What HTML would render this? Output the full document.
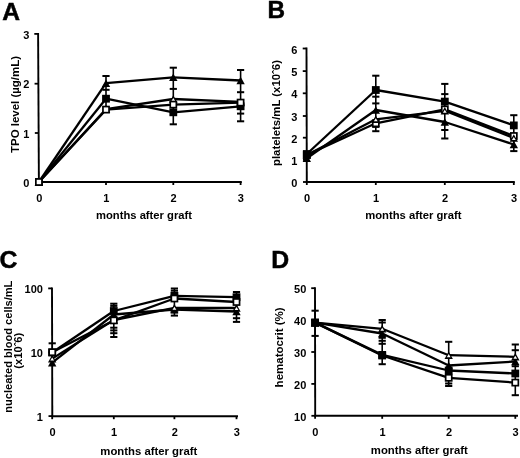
<!DOCTYPE html>
<html><head><meta charset="utf-8"><style>
html,body{margin:0;padding:0;background:#fff;width:520px;height:458px;overflow:hidden}
svg{display:block;will-change:transform;filter:blur(0.35px)}
text{font-family:"Liberation Sans",sans-serif;font-weight:bold;fill:#000}
.L{stroke:#000;stroke-width:0.5px}
</style></head><body>
<svg width="520" height="458" viewBox="0 0 520 458">
<rect width="520" height="458" fill="#fff"/>
<g stroke="#000" fill="none">
<line x1="38.10" y1="33.00" x2="38.90" y2="182.90" stroke-width="1.9"/>
<line x1="38.00" y1="182.00" x2="241.80" y2="182.00" stroke-width="1.9"/>
<line x1="35.10" y1="182.00" x2="38.90" y2="182.00" stroke-width="1.8"/>
<text stroke="none" fill="#000" x="29.40" y="186.60" font-size="11" text-anchor="end" >0</text>
<line x1="34.84" y1="133.00" x2="38.64" y2="133.00" stroke-width="1.8"/>
<text stroke="none" fill="#000" x="29.40" y="137.60" font-size="11" text-anchor="end" >1</text>
<line x1="34.57" y1="83.70" x2="38.37" y2="83.70" stroke-width="1.8"/>
<text stroke="none" fill="#000" x="29.40" y="88.30" font-size="11" text-anchor="end" >2</text>
<line x1="34.30" y1="33.90" x2="38.10" y2="33.90" stroke-width="1.8"/>
<text stroke="none" fill="#000" x="29.40" y="38.50" font-size="11" text-anchor="end" >3</text>
<line x1="38.90" y1="182.00" x2="38.90" y2="185.00" stroke-width="1.8"/>
<text stroke="none" fill="#000" x="39.20" y="201.70" font-size="11" text-anchor="middle" >0</text>
<line x1="106.00" y1="182.00" x2="106.00" y2="185.00" stroke-width="1.8"/>
<text stroke="none" fill="#000" x="106.30" y="201.70" font-size="11" text-anchor="middle" >1</text>
<line x1="173.30" y1="182.00" x2="173.30" y2="185.00" stroke-width="1.8"/>
<text stroke="none" fill="#000" x="173.60" y="201.70" font-size="11" text-anchor="middle" >2</text>
<line x1="240.60" y1="182.00" x2="240.60" y2="185.00" stroke-width="1.8"/>
<text stroke="none" fill="#000" x="240.90" y="201.70" font-size="11" text-anchor="middle" >3</text>
<text stroke="none" fill="#000" x="2.2" y="19.7" font-size="24.6" class="L">A</text>
<text stroke="none" fill="#000" x="96.00" y="219.40" font-size="11" text-anchor="start" textLength="96" lengthAdjust="spacingAndGlyphs">months after graft</text>
<text stroke="none" fill="#000" transform="translate(19.3,104.5) rotate(-90)" x="0" y="0" font-size="11.3" text-anchor="middle" textLength="97" lengthAdjust="spacingAndGlyphs">TPO level (µg/mL)</text>
<line x1="38.90" y1="182.00" x2="106.00" y2="98.70" stroke-width="2.3"/>
<line x1="106.00" y1="98.70" x2="173.30" y2="112.30" stroke-width="2.3"/>
<line x1="173.30" y1="112.30" x2="240.60" y2="106.30" stroke-width="2.3"/>
<line x1="38.90" y1="182.00" x2="106.00" y2="109.20" stroke-width="2.3"/>
<line x1="106.00" y1="109.20" x2="173.30" y2="99.00" stroke-width="2.3"/>
<line x1="173.30" y1="99.00" x2="240.60" y2="101.80" stroke-width="2.3"/>
<line x1="38.90" y1="182.00" x2="106.00" y2="83.20" stroke-width="2.3"/>
<line x1="106.00" y1="83.20" x2="173.30" y2="77.30" stroke-width="2.3"/>
<line x1="173.30" y1="77.30" x2="240.60" y2="80.50" stroke-width="2.3"/>
<line x1="38.90" y1="182.00" x2="106.00" y2="109.60" stroke-width="2.3"/>
<line x1="106.00" y1="109.60" x2="173.30" y2="104.60" stroke-width="2.3"/>
<line x1="173.30" y1="104.60" x2="240.60" y2="102.60" stroke-width="2.3"/>
<line x1="106.00" y1="76.00" x2="106.00" y2="106.00" stroke-width="1.6"/>
<line x1="102.40" y1="76.00" x2="109.60" y2="76.00" stroke-width="2.0"/>
<line x1="102.40" y1="89.80" x2="109.60" y2="89.80" stroke-width="2.0"/>
<line x1="173.30" y1="67.70" x2="173.30" y2="124.30" stroke-width="1.6"/>
<line x1="169.70" y1="67.70" x2="176.90" y2="67.70" stroke-width="2.0"/>
<line x1="169.70" y1="88.90" x2="176.90" y2="88.90" stroke-width="2.0"/>
<line x1="169.70" y1="124.30" x2="176.90" y2="124.30" stroke-width="2.0"/>
<line x1="240.60" y1="70.00" x2="240.60" y2="121.30" stroke-width="1.6"/>
<line x1="237.00" y1="70.00" x2="244.20" y2="70.00" stroke-width="2.0"/>
<line x1="237.00" y1="92.20" x2="244.20" y2="92.20" stroke-width="2.0"/>
<line x1="237.00" y1="113.60" x2="244.20" y2="113.60" stroke-width="2.0"/>
<line x1="237.00" y1="121.30" x2="244.20" y2="121.30" stroke-width="2.0"/>
<rect x="35.00" y="178.10" width="7.8" height="7.8" fill="#000" stroke="none"/>
<rect x="102.10" y="94.80" width="7.8" height="7.8" fill="#000" stroke="none"/>
<rect x="169.40" y="108.40" width="7.8" height="7.8" fill="#000" stroke="none"/>
<rect x="236.70" y="102.40" width="7.8" height="7.8" fill="#000" stroke="none"/>
<path d="M38.90,178.20 L43.10,185.80 L34.70,185.80Z" fill="#000" stroke="none"/>
<path d="M38.90,180.89 L40.79,184.01 L37.01,184.01Z" fill="#fff" stroke="none"/>
<path d="M106.00,105.40 L110.20,113.00 L101.80,113.00Z" fill="#000" stroke="none"/>
<path d="M106.00,108.09 L107.89,111.21 L104.11,111.21Z" fill="#fff" stroke="none"/>
<path d="M173.30,95.20 L177.50,102.80 L169.10,102.80Z" fill="#000" stroke="none"/>
<path d="M173.30,97.89 L175.19,101.01 L171.41,101.01Z" fill="#fff" stroke="none"/>
<path d="M240.60,98.00 L244.80,105.60 L236.40,105.60Z" fill="#000" stroke="none"/>
<path d="M240.60,100.69 L242.49,103.81 L238.71,103.81Z" fill="#fff" stroke="none"/>
<path d="M38.90,178.20 L43.10,185.80 L34.70,185.80Z" fill="#000" stroke="none"/>
<path d="M106.00,79.40 L110.20,87.00 L101.80,87.00Z" fill="#000" stroke="none"/>
<path d="M173.30,73.50 L177.50,81.10 L169.10,81.10Z" fill="#000" stroke="none"/>
<path d="M240.60,76.70 L244.80,84.30 L236.40,84.30Z" fill="#000" stroke="none"/>
<rect x="35.85" y="178.95" width="6.10" height="6.10" fill="#fff" stroke-width="1.7"/>
<rect x="102.95" y="106.55" width="6.10" height="6.10" fill="#fff" stroke-width="1.7"/>
<rect x="170.25" y="101.55" width="6.10" height="6.10" fill="#fff" stroke-width="1.7"/>
<rect x="237.55" y="99.55" width="6.10" height="6.10" fill="#fff" stroke-width="1.7"/>
<line x1="306.50" y1="47.60" x2="306.80" y2="182.90" stroke-width="1.9"/>
<line x1="305.90" y1="182.00" x2="514.80" y2="182.00" stroke-width="1.9"/>
<line x1="303.00" y1="182.00" x2="306.80" y2="182.00" stroke-width="1.8"/>
<text stroke="none" fill="#000" x="297.30" y="187.00" font-size="11" text-anchor="end" >0</text>
<line x1="302.95" y1="159.90" x2="306.75" y2="159.90" stroke-width="1.8"/>
<text stroke="none" fill="#000" x="297.30" y="164.90" font-size="11" text-anchor="end" >1</text>
<line x1="302.90" y1="137.70" x2="306.70" y2="137.70" stroke-width="1.8"/>
<text stroke="none" fill="#000" x="297.30" y="142.70" font-size="11" text-anchor="end" >2</text>
<line x1="302.85" y1="116.00" x2="306.65" y2="116.00" stroke-width="1.8"/>
<text stroke="none" fill="#000" x="297.30" y="121.00" font-size="11" text-anchor="end" >3</text>
<line x1="302.80" y1="93.30" x2="306.60" y2="93.30" stroke-width="1.8"/>
<text stroke="none" fill="#000" x="297.30" y="98.30" font-size="11" text-anchor="end" >4</text>
<line x1="302.75" y1="71.10" x2="306.55" y2="71.10" stroke-width="1.8"/>
<text stroke="none" fill="#000" x="297.30" y="76.10" font-size="11" text-anchor="end" >5</text>
<line x1="302.70" y1="48.50" x2="306.50" y2="48.50" stroke-width="1.8"/>
<text stroke="none" fill="#000" x="297.30" y="53.50" font-size="11" text-anchor="end" >6</text>
<line x1="306.80" y1="182.00" x2="306.80" y2="185.00" stroke-width="1.8"/>
<text stroke="none" fill="#000" x="307.10" y="201.90" font-size="11" text-anchor="middle" >0</text>
<line x1="375.80" y1="182.00" x2="375.80" y2="185.00" stroke-width="1.8"/>
<text stroke="none" fill="#000" x="376.10" y="201.90" font-size="11" text-anchor="middle" >1</text>
<line x1="444.80" y1="182.00" x2="444.80" y2="185.00" stroke-width="1.8"/>
<text stroke="none" fill="#000" x="445.10" y="201.90" font-size="11" text-anchor="middle" >2</text>
<line x1="513.80" y1="182.00" x2="513.80" y2="185.00" stroke-width="1.8"/>
<text stroke="none" fill="#000" x="514.10" y="201.90" font-size="11" text-anchor="middle" >3</text>
<text stroke="none" fill="#000" x="267.4" y="18.3" font-size="24.3" class="L">B</text>
<text stroke="none" fill="#000" x="365.20" y="219.30" font-size="11" text-anchor="start" textLength="96.3" lengthAdjust="spacingAndGlyphs">months after graft</text>
<text stroke="none" fill="#000" transform="translate(280.1,113) rotate(-90)" x="0" y="0" font-size="11" text-anchor="middle" textLength="106" lengthAdjust="spacingAndGlyphs">platelets/mL (x10ˆ6)</text>
<line x1="306.80" y1="158.20" x2="375.80" y2="110.00" stroke-width="2.3"/>
<line x1="375.80" y1="110.00" x2="444.80" y2="122.00" stroke-width="2.3"/>
<line x1="444.80" y1="122.00" x2="513.80" y2="144.50" stroke-width="2.3"/>
<line x1="306.80" y1="155.00" x2="375.80" y2="123.30" stroke-width="2.3"/>
<line x1="375.80" y1="123.30" x2="444.80" y2="109.40" stroke-width="2.3"/>
<line x1="444.80" y1="109.40" x2="513.80" y2="136.00" stroke-width="2.3"/>
<line x1="306.80" y1="155.00" x2="375.80" y2="119.30" stroke-width="2.3"/>
<line x1="375.80" y1="119.30" x2="444.80" y2="110.80" stroke-width="2.3"/>
<line x1="444.80" y1="110.80" x2="513.80" y2="138.00" stroke-width="2.3"/>
<line x1="306.80" y1="154.00" x2="375.80" y2="90.00" stroke-width="2.3"/>
<line x1="375.80" y1="90.00" x2="444.80" y2="101.60" stroke-width="2.3"/>
<line x1="444.80" y1="101.60" x2="513.80" y2="125.40" stroke-width="2.3"/>
<line x1="375.80" y1="75.70" x2="375.80" y2="131.20" stroke-width="1.6"/>
<line x1="372.20" y1="75.70" x2="379.40" y2="75.70" stroke-width="2.0"/>
<line x1="372.20" y1="96.70" x2="379.40" y2="96.70" stroke-width="2.0"/>
<line x1="372.20" y1="103.40" x2="379.40" y2="103.40" stroke-width="2.0"/>
<line x1="372.20" y1="126.90" x2="379.40" y2="126.90" stroke-width="2.0"/>
<line x1="372.20" y1="131.20" x2="379.40" y2="131.20" stroke-width="2.0"/>
<line x1="444.80" y1="83.90" x2="444.80" y2="138.50" stroke-width="1.6"/>
<line x1="441.20" y1="83.90" x2="448.40" y2="83.90" stroke-width="2.0"/>
<line x1="441.20" y1="94.10" x2="448.40" y2="94.10" stroke-width="2.0"/>
<line x1="441.20" y1="130.00" x2="448.40" y2="130.00" stroke-width="2.0"/>
<line x1="441.20" y1="138.50" x2="448.40" y2="138.50" stroke-width="2.0"/>
<line x1="513.80" y1="115.20" x2="513.80" y2="151.10" stroke-width="1.6"/>
<line x1="510.20" y1="115.20" x2="517.40" y2="115.20" stroke-width="2.0"/>
<line x1="510.20" y1="151.10" x2="517.40" y2="151.10" stroke-width="2.0"/>
<path d="M306.80,154.40 L311.00,162.00 L302.60,162.00Z" fill="#000" stroke="none"/>
<path d="M375.80,106.20 L380.00,113.80 L371.60,113.80Z" fill="#000" stroke="none"/>
<path d="M444.80,118.20 L449.00,125.80 L440.60,125.80Z" fill="#000" stroke="none"/>
<path d="M513.80,140.70 L518.00,148.30 L509.60,148.30Z" fill="#000" stroke="none"/>
<rect x="303.75" y="151.95" width="6.10" height="6.10" fill="#fff" stroke-width="1.7"/>
<rect x="372.75" y="120.25" width="6.10" height="6.10" fill="#fff" stroke-width="1.7"/>
<rect x="441.75" y="106.35" width="6.10" height="6.10" fill="#fff" stroke-width="1.7"/>
<rect x="510.75" y="132.95" width="6.10" height="6.10" fill="#fff" stroke-width="1.7"/>
<path d="M306.80,151.20 L311.00,158.80 L302.60,158.80Z" fill="#000" stroke="none"/>
<path d="M306.80,153.89 L308.69,157.01 L304.91,157.01Z" fill="#fff" stroke="none"/>
<path d="M375.80,115.50 L380.00,123.10 L371.60,123.10Z" fill="#000" stroke="none"/>
<path d="M375.80,118.19 L377.69,121.31 L373.91,121.31Z" fill="#fff" stroke="none"/>
<path d="M444.80,107.00 L449.00,114.60 L440.60,114.60Z" fill="#000" stroke="none"/>
<path d="M444.80,109.69 L446.69,112.81 L442.91,112.81Z" fill="#fff" stroke="none"/>
<path d="M513.80,134.20 L518.00,141.80 L509.60,141.80Z" fill="#000" stroke="none"/>
<path d="M513.80,136.89 L515.69,140.01 L511.91,140.01Z" fill="#fff" stroke="none"/>
<rect x="302.90" y="150.10" width="7.8" height="7.8" fill="#000" stroke="none"/>
<rect x="371.90" y="86.10" width="7.8" height="7.8" fill="#000" stroke="none"/>
<rect x="440.90" y="97.70" width="7.8" height="7.8" fill="#000" stroke="none"/>
<rect x="509.90" y="121.50" width="7.8" height="7.8" fill="#000" stroke="none"/>
<line x1="52.00" y1="287.50" x2="52.30" y2="417.10" stroke-width="1.9"/>
<line x1="51.40" y1="416.20" x2="238.00" y2="416.20" stroke-width="1.9"/>
<line x1="48.50" y1="416.10" x2="52.30" y2="416.10" stroke-width="1.8"/>
<text stroke="none" fill="#000" x="42.90" y="421.10" font-size="11" text-anchor="end" >1</text>
<line x1="48.35" y1="352.30" x2="52.15" y2="352.30" stroke-width="1.8"/>
<text stroke="none" fill="#000" x="42.90" y="357.30" font-size="11" text-anchor="end" >10</text>
<line x1="48.20" y1="288.40" x2="52.00" y2="288.40" stroke-width="1.8"/>
<text stroke="none" fill="#000" x="42.90" y="293.40" font-size="11" text-anchor="end" >100</text>
<line x1="52.20" y1="416.20" x2="52.20" y2="419.20" stroke-width="1.8"/>
<text stroke="none" fill="#000" x="52.50" y="436.30" font-size="11" text-anchor="middle" >0</text>
<line x1="113.80" y1="416.20" x2="113.80" y2="419.20" stroke-width="1.8"/>
<text stroke="none" fill="#000" x="114.10" y="436.30" font-size="11" text-anchor="middle" >1</text>
<line x1="174.40" y1="416.20" x2="174.40" y2="419.20" stroke-width="1.8"/>
<text stroke="none" fill="#000" x="174.70" y="436.30" font-size="11" text-anchor="middle" >2</text>
<line x1="236.50" y1="416.20" x2="236.50" y2="419.20" stroke-width="1.8"/>
<text stroke="none" fill="#000" x="236.80" y="436.30" font-size="11" text-anchor="middle" >3</text>
<text stroke="none" fill="#000" x="-0.6" y="267.9" font-size="24.8" class="L">C</text>
<text stroke="none" fill="#000" x="100.30" y="454.50" font-size="11" text-anchor="start" textLength="97" lengthAdjust="spacingAndGlyphs">months after graft</text>
<text stroke="none" fill="#000" transform="translate(11.6,346.7) rotate(-90)" x="0" y="0" font-size="11" text-anchor="middle" textLength="132" lengthAdjust="spacingAndGlyphs">nucleated blood cells/mL</text>
<text stroke="none" fill="#000" transform="translate(22.1,350.7) rotate(-90)" x="0" y="0" font-size="11" text-anchor="middle" textLength="36" lengthAdjust="spacingAndGlyphs">(x10ˆ6)</text>
<line x1="52.20" y1="362.60" x2="113.80" y2="314.50" stroke-width="2.3"/>
<line x1="113.80" y1="314.50" x2="174.40" y2="309.50" stroke-width="2.3"/>
<line x1="174.40" y1="309.50" x2="236.50" y2="311.50" stroke-width="2.3"/>
<line x1="52.20" y1="358.60" x2="113.80" y2="320.00" stroke-width="2.3"/>
<line x1="113.80" y1="320.00" x2="174.40" y2="307.80" stroke-width="2.3"/>
<line x1="174.40" y1="307.80" x2="236.50" y2="308.00" stroke-width="2.3"/>
<line x1="52.20" y1="352.50" x2="113.80" y2="311.00" stroke-width="2.3"/>
<line x1="113.80" y1="311.00" x2="174.40" y2="295.80" stroke-width="2.3"/>
<line x1="174.40" y1="295.80" x2="236.50" y2="297.20" stroke-width="2.3"/>
<line x1="52.20" y1="352.20" x2="113.80" y2="320.40" stroke-width="2.3"/>
<line x1="113.80" y1="320.40" x2="174.40" y2="298.50" stroke-width="2.3"/>
<line x1="174.40" y1="298.50" x2="236.50" y2="302.00" stroke-width="2.3"/>
<line x1="52.20" y1="343.30" x2="52.20" y2="343.30" stroke-width="1.6"/>
<line x1="48.60" y1="343.30" x2="55.80" y2="343.30" stroke-width="2.0"/>
<line x1="113.80" y1="303.70" x2="113.80" y2="337.00" stroke-width="1.6"/>
<line x1="110.20" y1="303.70" x2="117.40" y2="303.70" stroke-width="2.0"/>
<line x1="110.20" y1="305.90" x2="117.40" y2="305.90" stroke-width="2.0"/>
<line x1="110.20" y1="327.70" x2="117.40" y2="327.70" stroke-width="2.0"/>
<line x1="110.20" y1="330.40" x2="117.40" y2="330.40" stroke-width="2.0"/>
<line x1="110.20" y1="333.20" x2="117.40" y2="333.20" stroke-width="2.0"/>
<line x1="110.20" y1="337.00" x2="117.40" y2="337.00" stroke-width="2.0"/>
<line x1="174.40" y1="288.50" x2="174.40" y2="315.60" stroke-width="1.6"/>
<line x1="170.80" y1="288.50" x2="178.00" y2="288.50" stroke-width="2.0"/>
<line x1="170.80" y1="290.70" x2="178.00" y2="290.70" stroke-width="2.0"/>
<line x1="170.80" y1="312.50" x2="178.00" y2="312.50" stroke-width="2.0"/>
<line x1="170.80" y1="315.60" x2="178.00" y2="315.60" stroke-width="2.0"/>
<line x1="236.50" y1="292.00" x2="236.50" y2="321.90" stroke-width="1.6"/>
<line x1="232.90" y1="292.00" x2="240.10" y2="292.00" stroke-width="2.0"/>
<line x1="232.90" y1="318.20" x2="240.10" y2="318.20" stroke-width="2.0"/>
<line x1="232.90" y1="321.90" x2="240.10" y2="321.90" stroke-width="2.0"/>
<path d="M52.20,358.80 L56.40,366.40 L48.00,366.40Z" fill="#000" stroke="none"/>
<path d="M113.80,310.70 L118.00,318.30 L109.60,318.30Z" fill="#000" stroke="none"/>
<path d="M174.40,305.70 L178.60,313.30 L170.20,313.30Z" fill="#000" stroke="none"/>
<path d="M236.50,307.70 L240.70,315.30 L232.30,315.30Z" fill="#000" stroke="none"/>
<path d="M52.20,354.80 L56.40,362.40 L48.00,362.40Z" fill="#000" stroke="none"/>
<path d="M52.20,357.49 L54.09,360.61 L50.31,360.61Z" fill="#fff" stroke="none"/>
<path d="M113.80,316.20 L118.00,323.80 L109.60,323.80Z" fill="#000" stroke="none"/>
<path d="M113.80,318.89 L115.69,322.01 L111.91,322.01Z" fill="#fff" stroke="none"/>
<path d="M174.40,304.00 L178.60,311.60 L170.20,311.60Z" fill="#000" stroke="none"/>
<path d="M174.40,306.69 L176.29,309.81 L172.51,309.81Z" fill="#fff" stroke="none"/>
<path d="M236.50,304.20 L240.70,311.80 L232.30,311.80Z" fill="#000" stroke="none"/>
<path d="M236.50,306.89 L238.39,310.01 L234.61,310.01Z" fill="#fff" stroke="none"/>
<rect x="48.30" y="348.60" width="7.8" height="7.8" fill="#000" stroke="none"/>
<rect x="109.90" y="307.10" width="7.8" height="7.8" fill="#000" stroke="none"/>
<rect x="170.50" y="291.90" width="7.8" height="7.8" fill="#000" stroke="none"/>
<rect x="232.60" y="293.30" width="7.8" height="7.8" fill="#000" stroke="none"/>
<rect x="49.15" y="349.15" width="6.10" height="6.10" fill="#fff" stroke-width="1.7"/>
<rect x="110.75" y="317.35" width="6.10" height="6.10" fill="#fff" stroke-width="1.7"/>
<rect x="171.35" y="295.45" width="6.10" height="6.10" fill="#fff" stroke-width="1.7"/>
<rect x="233.45" y="298.95" width="6.10" height="6.10" fill="#fff" stroke-width="1.7"/>
<line x1="315.00" y1="287.30" x2="315.20" y2="416.70" stroke-width="1.9"/>
<line x1="314.30" y1="415.80" x2="518.00" y2="415.80" stroke-width="1.9"/>
<line x1="311.40" y1="415.80" x2="315.20" y2="415.80" stroke-width="1.8"/>
<text stroke="none" fill="#000" x="306.30" y="420.60" font-size="11" text-anchor="end" >10</text>
<line x1="311.35" y1="383.90" x2="315.15" y2="383.90" stroke-width="1.8"/>
<text stroke="none" fill="#000" x="306.30" y="388.70" font-size="11" text-anchor="end" >20</text>
<line x1="311.30" y1="352.00" x2="315.10" y2="352.00" stroke-width="1.8"/>
<text stroke="none" fill="#000" x="306.30" y="356.80" font-size="11" text-anchor="end" >30</text>
<line x1="311.25" y1="320.10" x2="315.05" y2="320.10" stroke-width="1.8"/>
<text stroke="none" fill="#000" x="306.30" y="324.90" font-size="11" text-anchor="end" >40</text>
<line x1="311.20" y1="288.20" x2="315.00" y2="288.20" stroke-width="1.8"/>
<text stroke="none" fill="#000" x="306.30" y="293.00" font-size="11" text-anchor="end" >50</text>
<line x1="315.10" y1="415.80" x2="315.10" y2="418.80" stroke-width="1.8"/>
<text stroke="none" fill="#000" x="315.40" y="436.00" font-size="11" text-anchor="middle" >0</text>
<line x1="382.20" y1="415.80" x2="382.20" y2="418.80" stroke-width="1.8"/>
<text stroke="none" fill="#000" x="382.50" y="436.00" font-size="11" text-anchor="middle" >1</text>
<line x1="448.70" y1="415.80" x2="448.70" y2="418.80" stroke-width="1.8"/>
<text stroke="none" fill="#000" x="449.00" y="436.00" font-size="11" text-anchor="middle" >2</text>
<line x1="515.30" y1="415.80" x2="515.30" y2="418.80" stroke-width="1.8"/>
<text stroke="none" fill="#000" x="515.60" y="436.00" font-size="11" text-anchor="middle" >3</text>
<text stroke="none" fill="#000" x="271.3" y="267.7" font-size="24.8" class="L">D</text>
<text stroke="none" fill="#000" x="370.80" y="453.70" font-size="11" text-anchor="start" textLength="97" lengthAdjust="spacingAndGlyphs">months after graft</text>
<text stroke="none" fill="#000" transform="translate(282.8,347.4) rotate(-90)" x="0" y="0" font-size="11.3" text-anchor="middle" textLength="80" lengthAdjust="spacingAndGlyphs">hematocrit (%)</text>
<line x1="315.10" y1="322.60" x2="382.20" y2="355.50" stroke-width="2.3"/>
<line x1="382.20" y1="355.50" x2="448.70" y2="377.80" stroke-width="2.3"/>
<line x1="448.70" y1="377.80" x2="515.30" y2="382.60" stroke-width="2.3"/>
<line x1="315.10" y1="322.60" x2="382.20" y2="333.50" stroke-width="2.3"/>
<line x1="382.20" y1="333.50" x2="448.70" y2="365.50" stroke-width="2.3"/>
<line x1="448.70" y1="365.50" x2="515.30" y2="361.50" stroke-width="2.3"/>
<line x1="315.10" y1="322.60" x2="382.20" y2="328.80" stroke-width="2.3"/>
<line x1="382.20" y1="328.80" x2="448.70" y2="355.20" stroke-width="2.3"/>
<line x1="448.70" y1="355.20" x2="515.30" y2="356.80" stroke-width="2.3"/>
<line x1="315.10" y1="322.60" x2="382.20" y2="354.90" stroke-width="2.3"/>
<line x1="382.20" y1="354.90" x2="448.70" y2="370.50" stroke-width="2.3"/>
<line x1="448.70" y1="370.50" x2="515.30" y2="373.50" stroke-width="2.3"/>
<line x1="315.10" y1="310.70" x2="315.10" y2="335.90" stroke-width="1.6"/>
<line x1="311.50" y1="310.70" x2="318.70" y2="310.70" stroke-width="2.0"/>
<line x1="311.50" y1="335.90" x2="318.70" y2="335.90" stroke-width="2.0"/>
<line x1="382.20" y1="320.00" x2="382.20" y2="364.20" stroke-width="1.6"/>
<line x1="378.60" y1="320.00" x2="385.80" y2="320.00" stroke-width="2.0"/>
<line x1="378.60" y1="322.50" x2="385.80" y2="322.50" stroke-width="2.0"/>
<line x1="378.60" y1="337.80" x2="385.80" y2="337.80" stroke-width="2.0"/>
<line x1="378.60" y1="340.80" x2="385.80" y2="340.80" stroke-width="2.0"/>
<line x1="378.60" y1="343.80" x2="385.80" y2="343.80" stroke-width="2.0"/>
<line x1="378.60" y1="364.20" x2="385.80" y2="364.20" stroke-width="2.0"/>
<line x1="448.70" y1="341.80" x2="448.70" y2="386.00" stroke-width="1.6"/>
<line x1="445.10" y1="341.80" x2="452.30" y2="341.80" stroke-width="2.0"/>
<line x1="445.10" y1="383.50" x2="452.30" y2="383.50" stroke-width="2.0"/>
<line x1="445.10" y1="386.00" x2="452.30" y2="386.00" stroke-width="2.0"/>
<line x1="515.30" y1="344.50" x2="515.30" y2="395.20" stroke-width="1.6"/>
<line x1="511.70" y1="344.50" x2="518.90" y2="344.50" stroke-width="2.0"/>
<line x1="511.70" y1="350.20" x2="518.90" y2="350.20" stroke-width="2.0"/>
<line x1="511.70" y1="366.20" x2="518.90" y2="366.20" stroke-width="2.0"/>
<line x1="511.70" y1="395.20" x2="518.90" y2="395.20" stroke-width="2.0"/>
<rect x="312.05" y="319.55" width="6.10" height="6.10" fill="#fff" stroke-width="1.7"/>
<rect x="379.15" y="352.45" width="6.10" height="6.10" fill="#fff" stroke-width="1.7"/>
<rect x="445.65" y="374.75" width="6.10" height="6.10" fill="#fff" stroke-width="1.7"/>
<rect x="512.25" y="379.55" width="6.10" height="6.10" fill="#fff" stroke-width="1.7"/>
<path d="M315.10,318.80 L319.30,326.40 L310.90,326.40Z" fill="#000" stroke="none"/>
<path d="M382.20,329.70 L386.40,337.30 L378.00,337.30Z" fill="#000" stroke="none"/>
<path d="M448.70,361.70 L452.90,369.30 L444.50,369.30Z" fill="#000" stroke="none"/>
<path d="M515.30,357.70 L519.50,365.30 L511.10,365.30Z" fill="#000" stroke="none"/>
<path d="M315.10,318.80 L319.30,326.40 L310.90,326.40Z" fill="#000" stroke="none"/>
<path d="M315.10,321.49 L316.99,324.61 L313.21,324.61Z" fill="#fff" stroke="none"/>
<path d="M382.20,325.00 L386.40,332.60 L378.00,332.60Z" fill="#000" stroke="none"/>
<path d="M382.20,327.69 L384.09,330.81 L380.31,330.81Z" fill="#fff" stroke="none"/>
<path d="M448.70,351.40 L452.90,359.00 L444.50,359.00Z" fill="#000" stroke="none"/>
<path d="M448.70,354.09 L450.59,357.21 L446.81,357.21Z" fill="#fff" stroke="none"/>
<path d="M515.30,353.00 L519.50,360.60 L511.10,360.60Z" fill="#000" stroke="none"/>
<path d="M515.30,355.69 L517.19,358.81 L513.41,358.81Z" fill="#fff" stroke="none"/>
<rect x="311.20" y="318.70" width="7.8" height="7.8" fill="#000" stroke="none"/>
<rect x="378.30" y="351.00" width="7.8" height="7.8" fill="#000" stroke="none"/>
<rect x="444.80" y="366.60" width="7.8" height="7.8" fill="#000" stroke="none"/>
<rect x="511.40" y="369.60" width="7.8" height="7.8" fill="#000" stroke="none"/>
</g>
</svg>
</body></html>
